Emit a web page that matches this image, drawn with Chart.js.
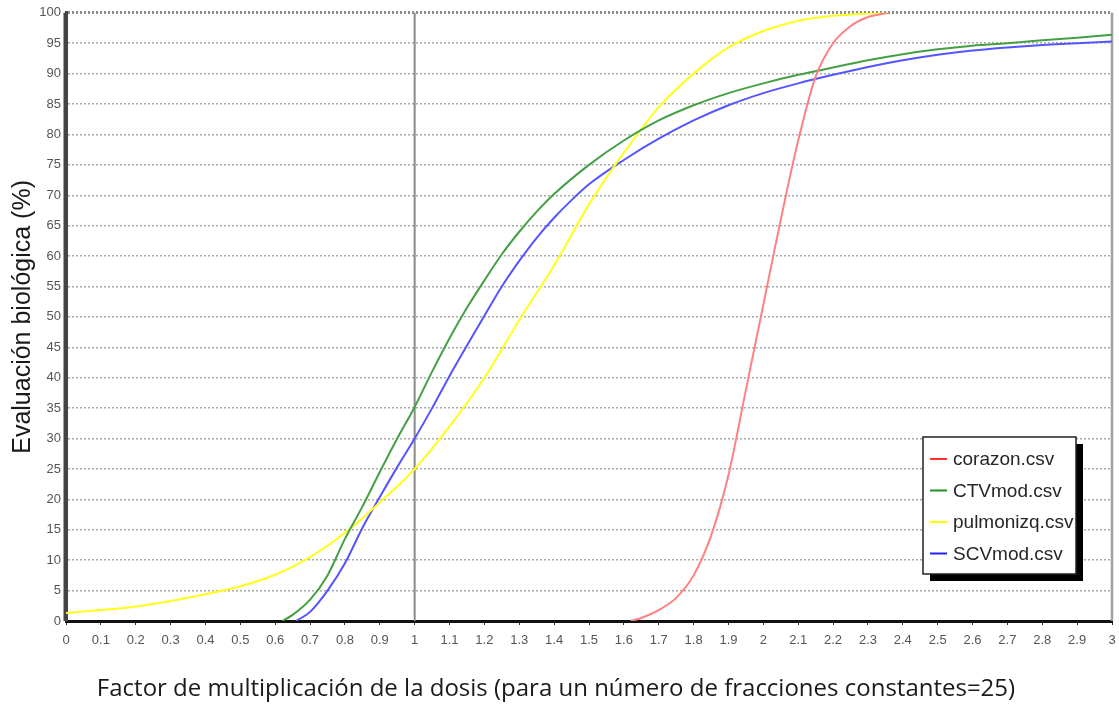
<!DOCTYPE html>
<html>
<head>
<meta charset="utf-8">
<script src="https://cdn.jsdelivr.net/npm/chart.js@4.4.1/dist/chart.umd.min.js"></script>
<style>
  html, body { margin: 0; padding: 0; background: #fff; }
  #wrap { width: 1119px; height: 706px; position: relative; }
</style>
</head>
<body>
<div id="wrap"><canvas id="chart"></canvas></div>
<script>
// ---- data ----
const seriesLabels = ['corazon.csv', 'CTVmod.csv', 'pulmonizq.csv', 'SCVmod.csv'];
const seriesColors = ['#ff8080', '#45a045', '#ffff1a', '#5555ff'];
const legendColors = ['#ff3030', '#1f8f1f', '#ffff00', '#2020ff'];

const xCorazon = [1.62, 1.65, 1.70, 1.75, 1.80, 1.85, 1.90, 1.95, 2.0, 2.05, 2.1, 2.15, 2.2, 2.25, 2.3, 2.36];
const yCorazon = [0, 0.5, 1.8, 3.8, 7.5, 14, 24, 38, 52, 66, 79, 89.5, 95, 97.8, 99.3, 100];

const xCTV = [0.62, 0.65, 0.7, 0.75, 0.8, 0.85, 0.9, 0.95, 1.0, 1.05, 1.1, 1.15, 1.2, 1.25, 1.3, 1.35, 1.4, 1.5, 1.6, 1.7, 1.8, 1.9, 2.0, 2.1, 2.2, 2.3, 2.4, 2.5, 2.6, 2.7, 2.8, 2.9, 3.0];
const yCTV = [0, 1, 3.5, 7.5, 13.5, 18.8, 24.5, 30, 35.2, 41, 46.5, 51.5, 56, 60.3, 64, 67.3, 70.2, 75, 79, 82.3, 84.8, 86.8, 88.4, 89.8, 91, 92.2, 93.2, 94, 94.6, 95, 95.5, 95.9, 96.4];

const xPulmon = [0, 0.1, 0.2, 0.3, 0.4, 0.5, 0.6, 0.7, 0.8, 0.9, 1.0, 1.1, 1.2, 1.3, 1.4, 1.5, 1.6, 1.7, 1.8, 1.9, 2.0, 2.1, 2.2, 2.3, 2.36];
const yPulmon = [1.3, 1.8, 2.4, 3.3, 4.4, 5.7, 7.6, 10.5, 14.5, 19.5, 25, 32, 40, 49.5, 58.5, 68.5, 77, 84.5, 90, 94.3, 97, 98.7, 99.5, 99.9, 100];

const xSCV = [0.66, 0.7, 0.75, 0.8, 0.85, 0.9, 0.95, 1.0, 1.05, 1.1, 1.15, 1.2, 1.25, 1.3, 1.35, 1.4, 1.45, 1.5, 1.6, 1.7, 1.8, 1.9, 2.0, 2.1, 2.2, 2.3, 2.4, 2.5, 2.6, 2.7, 2.8, 2.9, 3.0];
const ySCV = [0, 1.5, 5, 9.5, 15.3, 20.4, 25.3, 30, 35, 40.3, 45.3, 50.2, 55, 59.2, 63, 66.3, 69.2, 71.8, 75.8, 79.3, 82.3, 84.8, 86.8, 88.4, 89.8, 91.1, 92.2, 93.1, 93.8, 94.3, 94.7, 95, 95.3];

const xMin = 0, xMax = 3, xStep = 0.1;
const yMin = 0, yMax = 100, yStep = 5;
const refLineX = 1;

const xTitle = 'Factor de multiplicación de la dosis (para un número de fracciones constantes=25)';
const yTitle = 'Evaluación biológica (%)';

function toPoints(xs, ys) {
  return xs.map((x, i) => ({ x: x, y: ys[i] }));
}

const allSeries = [
  toPoints(xCorazon, yCorazon),
  toPoints(xCTV, yCTV),
  toPoints(xPulmon, yPulmon),
  toPoints(xSCV, ySCV)
];

const tickFont = { family: '"Liberation Sans Narrow", "Liberation Sans", Arial', size: 13 };

// vertical reference line at x = 1, right edge and solid left axis
const framePlugin = {
  id: 'frame',
  beforeDatasetsDraw(chart) {
    const { ctx, chartArea, scales } = chart;
    const px = scales.x.getPixelForValue(refLineX);
    ctx.save();
    ctx.setLineDash([]);
    ctx.strokeStyle = '#8a8a8a';
    ctx.lineWidth = 2;
    ctx.beginPath();
    ctx.moveTo(px, chartArea.top);
    ctx.lineTo(px, chartArea.bottom);
    ctx.stroke();
    const rx = scales.x.getPixelForValue(xMax);
    ctx.strokeStyle = '#a0a0a0';
    ctx.lineWidth = 2.5;
    ctx.beginPath();
    ctx.moveTo(rx, chartArea.top);
    ctx.lineTo(rx, chartArea.bottom);
    ctx.stroke();
    const lx = scales.x.getPixelForValue(xMin);
    ctx.strokeStyle = '#444';
    ctx.lineWidth = 3;
    ctx.beginPath();
    ctx.moveTo(lx - 1, chartArea.top);
    ctx.lineTo(lx - 1, chartArea.bottom);
    ctx.stroke();
    ctx.restore();
  }
};

// boxed legend with a drop shadow, bottom right of the plot
const boxLegendPlugin = {
  id: 'boxLegend',
  afterDraw(chart) {
    const { ctx } = chart;
    const left = 923, top = 437, w = 153, h = 137;
    ctx.save();
    ctx.fillStyle = '#000';
    ctx.fillRect(left + 7, top + 7, w, h);
    ctx.fillStyle = '#fff';
    ctx.fillRect(left, top, w, h);
    ctx.strokeStyle = '#222';
    ctx.lineWidth = 1.5;
    ctx.strokeRect(left, top, w, h);
    ctx.font = '19px "Liberation Sans", Arial, sans-serif';
    ctx.textBaseline = 'middle';
    chart.data.datasets.forEach((ds, i) => {
      const cy = top + 22 + i * 31.5;
      ctx.strokeStyle = legendColors[i];
      ctx.lineWidth = 2;
      ctx.beginPath();
      ctx.moveTo(left + 7, cy);
      ctx.lineTo(left + 24, cy);
      ctx.stroke();
      ctx.fillStyle = '#262626';
      ctx.fillText(ds.label, left + 30, cy + 1);
    });
    ctx.restore();
  }
};

new Chart(document.getElementById('chart'), {
  type: 'line',
  data: {
    datasets: allSeries.map((pts, i) => ({
      label: seriesLabels[i],
      data: pts,
      borderColor: seriesColors[i],
      backgroundColor: seriesColors[i],
      borderWidth: 2,
      pointRadius: 0,
      fill: false,
      cubicInterpolationMode: 'monotone'
    }))
  },
  options: {
    responsive: true,
    maintainAspectRatio: false,
    animation: false,
    layout: { padding: { top: 11, right: 7, left: 0, bottom: 0 } },
    plugins: {
      legend: { display: false },
      tooltip: { enabled: false },
      // x axis title, centred on the whole picture as in the original
      title: {
        display: true,
        position: 'bottom',
        text: xTitle,
        color: '#1a1a1a',
        font: { family: '"Open Sans", sans-serif', size: 24, weight: 'normal', lineHeight: 1.2 },
        padding: { top: 8, bottom: 2 }
      }
    },
    scales: {
      x: {
        type: 'linear',
        min: xMin,
        max: xMax,
        afterFit: s => { s.height = 46.2; s.paddingRight = 0; },
        border: { color: '#111', width: 3 },
        grid: { drawOnChartArea: false, drawTicks: true, tickLength: 4, color: '#333' },
        ticks: {
          stepSize: xStep,
          autoSkip: false,
          maxRotation: 0,
          color: '#555',
          padding: 8,
          font: tickFont,
          callback: v => String(+v.toFixed(1))
        }
      },
      y: {
        min: yMin,
        max: yMax,
        afterFit: s => { s.width = 66; },
        border: { color: '#444', width: 3, dash: [2, 2] },
        grid: {
          drawTicks: false,
          color: c => (c.tick && c.tick.value === yMax ? '#8c8c8c' : '#a8a8a8'),
          lineWidth: c => (c.tick && c.tick.value === yMax ? 3 : 1.5)
        },
        ticks: {
          stepSize: yStep,
          color: '#555',
          padding: 5,
          font: tickFont
        },
        title: {
          display: true,
          text: yTitle,
          color: '#1a1a1a',
          font: { family: '"Liberation Sans", Arial, sans-serif', size: 25 },
          padding: { top: 8, bottom: 2 }
        }
      }
    }
  },
  plugins: [framePlugin, boxLegendPlugin]
});
</script>
</body>
</html>
